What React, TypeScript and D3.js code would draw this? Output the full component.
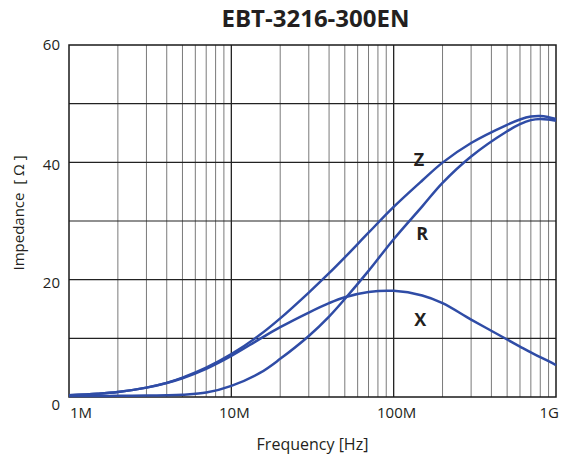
import React from "react";
import * as d3 from "d3";

const title = "EBT-3216-300EN";
const freqMHz = [1, 1.5, 2, 3, 4, 5, 7, 10, 15, 20, 30, 40, 50, 70, 100, 150, 200, 300, 500, 600, 700, 800, 900, 1000];
const zValues = [0.3, 0.55, 0.85, 1.6, 2.4, 3.3, 5.0, 7.3, 10.6, 13.4, 17.8, 21.1, 23.8, 28.0, 32.4, 36.9, 39.95, 43.3, 46.4, 47.3, 47.8, 47.9, 47.7, 47.4];
const rValues = [0.15, 0.18, 0.2, 0.25, 0.3, 0.4, 0.75, 1.9, 4.1, 6.5, 10.4, 13.7, 16.7, 21.5, 26.9, 32.5, 36.5, 41.0, 45.3, 46.5, 47.2, 47.4, 47.3, 47.1];
const xValues = [0.3, 0.55, 0.85, 1.6, 2.4, 3.2, 4.8, 7.0, 9.9, 11.9, 14.4, 16.0, 17.0, 17.9, 18.1, 17.3, 16.0, 13.2, 9.8, 8.6, 7.6, 6.8, 6.1, 5.45];
const yTicks = [0, 20, 40, 60];
const yGrid = [10, 20, 30, 40, 50];
const xTickLabels = [
  { f: 1, label: "1M" },
  { f: 10, label: "10M" },
  { f: 100, label: "100M" },
  { f: 1000, label: "1G" },
];
const seriesLabels = [
  { name: "Z", f: 143, v: 39.4 },
  { name: "R", f: 150, v: 26.8 },
  { name: "X", f: 146, v: 12.1 },
];

export default function App() {
  const W = 563, H = 461;
  const left = 69, right = 556, top = 45, bottom = 397;
  const x = d3.scaleLog().domain([1, 1000]).range([left, right]);
  const y = d3.scaleLinear().domain([0, 60]).range([bottom, top]);

  const minor: number[] = [];
  [1, 10, 100].forEach((d) => {
    for (let k = 2; k <= 9; k++) minor.push(d * k);
  });
  const major = [10, 100];

  const line = d3
    .line<number>()
    .x((_, i) => x(freqMHz[i]))
    .y((v) => y(v))
    .curve(d3.curveCatmullRom.alpha(0.5));

  const blue = "#2f4ca6";
  const font = "'Open Sans', 'DejaVu Sans', sans-serif";
  const textColor = "#231f20";

  const labelAnchor = (label: string) =>
    label === "1M" ? "start" : label === "1G" ? "end" : "middle";
  const labelX = (f: number, label: string) =>
    label === "1M" ? x(f) + 1 : label === "1G" ? x(f) + 3 : x(f) + 3;

  return (
    <svg
      width={W}
      height={H}
      style={{ position: "absolute", left: 0, top: 0, background: "#fff" }}
      fontFamily={font}
    >
      <rect x={0} y={0} width={W} height={H} fill="#fff" />
      {minor.map((f) => (
        <line key={"mn" + f} x1={x(f)} x2={x(f)} y1={top} y2={bottom} stroke="#7a7a7a" strokeWidth={1} />
      ))}
      {major.map((f) => (
        <line key={"mj" + f} x1={x(f)} x2={x(f)} y1={top} y2={bottom} stroke="#222" strokeWidth={1.3} />
      ))}
      {yGrid.map((v) => (
        <line key={"h" + v} x1={left} x2={right} y1={y(v)} y2={y(v)} stroke="#222" strokeWidth={1.1} />
      ))}
      <rect x={left} y={top} width={right - left} height={bottom - top} fill="none" stroke="#1a1a1a" strokeWidth={1.5} />

      <path d={line(rValues) || ""} fill="none" stroke={blue} strokeWidth={2.5} />
      <path d={line(xValues) || ""} fill="none" stroke={blue} strokeWidth={2.5} />
      <path d={line(zValues) || ""} fill="none" stroke={blue} strokeWidth={2.5} />

      {seriesLabels.map((s) => (
        <text
          key={s.name}
          x={x(s.f)}
          y={y(s.v)}
          textAnchor="middle"
          fontSize={18}
          fontWeight={700}
          fill={textColor}
        >
          {s.name}
        </text>
      ))}

      <text x={(left + right) / 2 + 3} y={27} textAnchor="middle" fontSize={24} fontWeight={700} fill={textColor}>
        {title}
      </text>

      {yTicks.map((v) => (
        <text
          key={"yt" + v}
          x={60}
          y={y(v) + (v === 0 ? 13 : v === 60 ? 5 : 8)}
          textAnchor="end"
          fontSize={15}
          fill={textColor}
        >
          {v}
        </text>
      ))}

      {xTickLabels.map((t) => (
        <text
          key={t.label}
          x={labelX(t.f, t.label)}
          y={418}
          textAnchor={labelAnchor(t.label)}
          fontSize={15}
          fill={textColor}
        >
          {t.label}
        </text>
      ))}

      <text x={(left + right) / 2} y={450} textAnchor="middle" fontSize={16} fill={textColor}>
        Frequency [Hz]
      </text>
      <text
        transform={`translate(24, 213) rotate(-90)`}
        textAnchor="middle"
        fontSize={15}
        fill={textColor}
        style={{ whiteSpace: "pre" }}
      >
        {"Impedance  [ Ω ]"}
      </text>
    </svg>
  );
}
